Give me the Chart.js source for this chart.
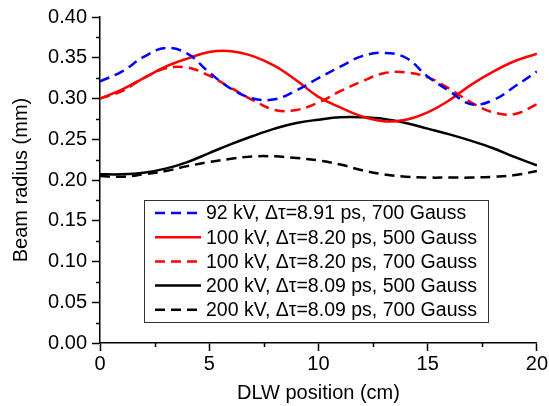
<!DOCTYPE html>
<html>
<head>
<meta charset="utf-8">
<script src="https://cdn.jsdelivr.net/npm/chart.js@4"></script>
<style>
  html, body { margin: 0; padding: 0; background: #fff; }
  #wrap { width: 549px; height: 406px; }
</style>
</head>
<body>
<div id="wrap"><canvas id="beamChart" width="549" height="406"></canvas></div>
<script>
// DATA
const positions = [0, 1, 2, 3, 4, 5, 6, 7, 8, 9, 10, 11, 12, 13, 14, 15, 16, 17, 18, 19, 20];
const kv92_700 = [0.321, 0.333, 0.351, 0.362, 0.355, 0.332, 0.312, 0.300, 0.299, 0.310, 0.325, 0.339, 0.352, 0.356, 0.350, 0.327, 0.309, 0.293, 0.298, 0.315, 0.333];
const kv100_500 = [0.300, 0.311, 0.325, 0.339, 0.349, 0.357, 0.358, 0.352, 0.340, 0.322, 0.302, 0.289, 0.278, 0.272, 0.274, 0.283, 0.298, 0.317, 0.333, 0.346, 0.355];
const kv100_700 = [0.300, 0.309, 0.325, 0.337, 0.338, 0.328, 0.313, 0.298, 0.286, 0.286, 0.295, 0.309, 0.321, 0.331, 0.332, 0.326, 0.312, 0.295, 0.283, 0.281, 0.293];
const kv200_500 = [0.207, 0.207, 0.209, 0.214, 0.222, 0.233, 0.244, 0.254, 0.263, 0.270, 0.274, 0.277, 0.277, 0.275, 0.270, 0.263, 0.256, 0.248, 0.239, 0.228, 0.218];
const kv200_700 = [0.205, 0.204, 0.207, 0.211, 0.217, 0.222, 0.226, 0.229, 0.229, 0.227, 0.224, 0.219, 0.212, 0.207, 0.204, 0.203, 0.203, 0.203, 0.204, 0.206, 0.211];
const seriesLabels = [
    '92 kV, Δτ=8.91 ps, 700 Gauss',
    '100 kV, Δτ=8.20 ps, 500 Gauss',
    '100 kV, Δτ=8.20 ps, 700 Gauss',
    '200 kV, Δτ=8.09 ps, 500 Gauss',
    '200 kV, Δτ=8.09 ps, 700 Gauss'
];
const yTicks = [0, 0.05, 0.10, 0.15, 0.20, 0.25, 0.30, 0.35, 0.40];
const xTicks = [0, 5, 10, 15, 20];

const FONT = 'Arial, "Liberation Sans", sans-serif';
const DASH = [10, 6];

function toPoints(ys) {
    return positions.map((x, i) => ({ x: x, y: ys[i] }));
}

function makeSet(label, ys, color, dashed) {
    return {
        label: label,
        data: toPoints(ys),
        borderColor: color,
        backgroundColor: color,
        borderWidth: 2.5,
        borderDash: dashed ? DASH : [],
        pointRadius: 0,
        fill: false,
        tension: 0.4
    };
}

// minor ticks halfway between the major ones, pointing outwards
const minorTicks = {
    id: 'minorTicks',
    afterDraw(chart) {
        const ctx = chart.ctx;
        const xs = chart.scales.x, ys = chart.scales.y;
        const ca = chart.chartArea;
        ctx.save();
        ctx.strokeStyle = '#000';
        ctx.lineWidth = 1.5;
        ctx.beginPath();
        for (let i = 0; i < yTicks.length - 1; i++) {
            const py = Math.round(ys.getPixelForValue((yTicks[i] + yTicks[i + 1]) / 2)) + 0.5;
            ctx.moveTo(ca.left - 4, py);
            ctx.lineTo(ca.left, py);
        }
        for (let i = 0; i < xTicks.length - 1; i++) {
            const px = Math.round(xs.getPixelForValue((xTicks[i] + xTicks[i + 1]) / 2)) + 0.5;
            ctx.moveTo(px, ca.bottom);
            ctx.lineTo(px, ca.bottom + 4);
        }
        ctx.stroke();
        ctx.restore();
    }
};

// boxed legend inside the plot area
const insideLegend = {
    id: 'insideLegend',
    afterDraw(chart) {
        const ctx = chart.ctx;
        const ca = chart.chartArea;
        const left = ca.left + 44, top = ca.top + 183;
        const w = 344, h = 122, rowH = 24.2;
        ctx.save();
        ctx.fillStyle = '#fff';
        ctx.fillRect(left, top, w, h);
        ctx.strokeStyle = '#333';
        ctx.lineWidth = 1;
        ctx.strokeRect(left + 0.5, top + 0.5, w, h);
        ctx.font = '19.5px ' + FONT;
        ctx.textBaseline = 'middle';
        chart.data.datasets.forEach((ds, i) => {
            const cy = top + 13 + i * rowH;
            ctx.strokeStyle = ds.borderColor;
            ctx.lineWidth = 2.5;
            ctx.setLineDash(ds.borderDash);
            ctx.beginPath();
            ctx.moveTo(left + 11, cy);
            ctx.lineTo(left + 57, cy);
            ctx.stroke();
            ctx.setLineDash([]);
            ctx.fillStyle = '#000';
            ctx.fillText(ds.label, left + 62, cy + 1);
        });
        ctx.restore();
    }
};

const chart = new Chart(document.getElementById('beamChart'), {
    type: 'line',
    data: {
        datasets: [
            makeSet(seriesLabels[0], kv92_700, '#0000ff', true),
            makeSet(seriesLabels[1], kv100_500, '#ff0000', false),
            makeSet(seriesLabels[2], kv100_700, '#ff0000', true),
            makeSet(seriesLabels[3], kv200_500, '#000000', false),
            makeSet(seriesLabels[4], kv200_700, '#000000', true)
        ]
    },
    options: {
        responsive: false,
        animation: false,
        layout: { padding: { top: 17, right: 11, left: 0, bottom: 0 } },
        plugins: { legend: { display: false }, tooltip: { enabled: false } },
        scales: {
            x: {
                type: 'linear',
                min: 0, max: 20,
                afterFit: s => { s.height = 63; },
                afterBuildTicks: s => { s.ticks = xTicks.map(v => ({ value: v })); },
                ticks: { color: '#000', font: { family: FONT, size: 20 }, padding: 1, maxRotation: 0 },
                grid: { drawOnChartArea: false, drawTicks: true, tickLength: 8, color: '#000', tickWidth: 1.5 },
                border: { display: true, color: '#000', width: 1.5 },
                title: { display: true, text: 'DLW position (cm)', color: '#000', font: { family: FONT, size: 20 }, padding: { top: 0, bottom: 1 } }
            },
            y: {
                min: 0, max: 0.4,
                afterFit: s => { s.width = 100; },
                afterBuildTicks: s => { s.ticks = yTicks.map(v => ({ value: v })); },
                ticks: { color: '#000', font: { family: FONT, size: 20 }, padding: 5, callback: v => v.toFixed(2) },
                grid: { drawOnChartArea: false, drawTicks: true, tickLength: 8, color: '#000', tickWidth: 1.5 },
                border: { display: true, color: '#000', width: 1.5 },
                title: { display: true, text: 'Beam radius (mm)', color: '#000', font: { family: FONT, size: 20 }, padding: { top: 9, bottom: 0 } }
            }
        }
    },
    plugins: [minorTicks, insideLegend]
});
</script>
</body>
</html>
